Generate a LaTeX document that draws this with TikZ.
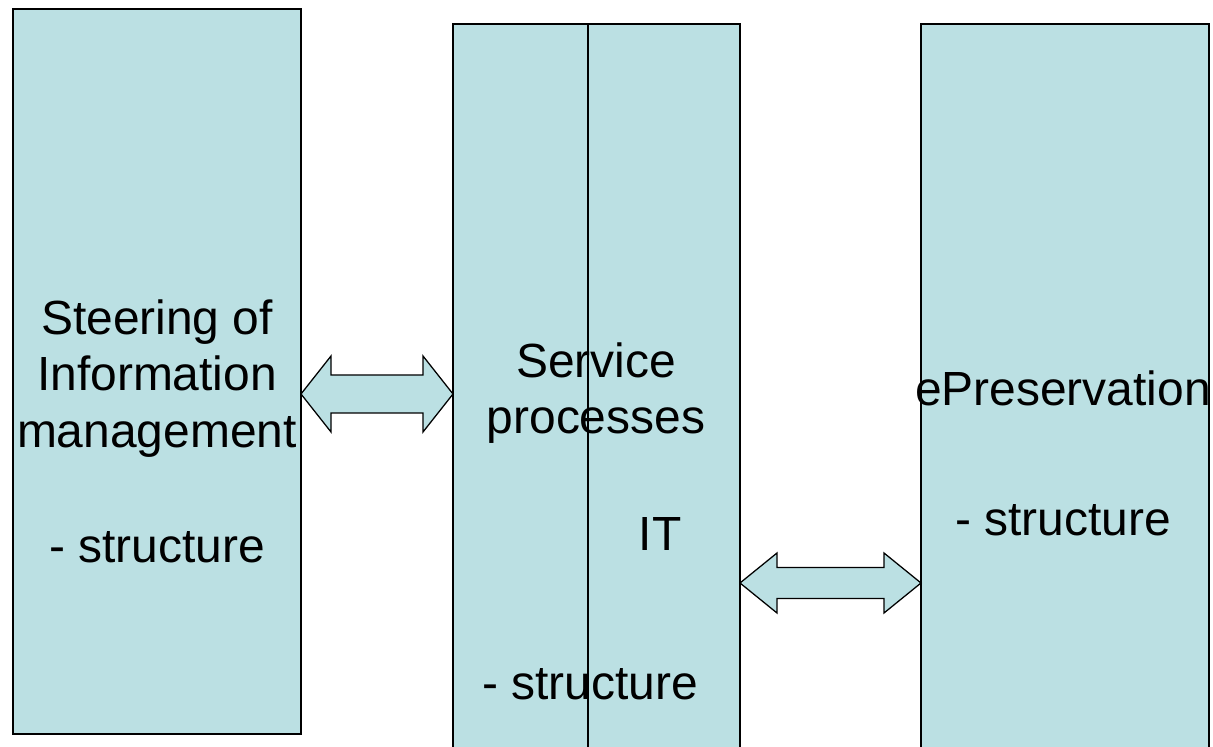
\documentclass[tikz,border=0pt]{standalone}
\usepackage{fontspec}
\setmainfont{Liberation Sans}
\usetikzlibrary{calc}
\definecolor{boxteal}{HTML}{BBE0E3}
\newcommand{\px}{0.025cm}
% block arrow with a head at both ends: from, to, shaft half, head half, head length
\newcommand{\twoway}[5]{%
  \draw[linkarrow] (#1) -- ($(#1)+(#5,-#4)$) -- ($(#1)+(#5,-#3)$)
    -- ($(#2)+(-#5,-#3)$) -- ($(#2)+(-#5,-#4)$) -- (#2)
    -- ($(#2)+(-#5,#4)$) -- ($(#2)+(-#5,#3)$)
    -- ($(#1)+(#5,#3)$) -- ($(#1)+(#5,#4)$) -- cycle;}
\tikzset{
  block/.style={rectangle,draw=black,fill=boxteal,line width=1.2pt,inner sep=0pt,outer sep=0pt},
  linkarrow/.style={draw=black,fill=boxteal,line width=0.9pt,line join=miter},
  label/.style={anchor=base,inner sep=0pt,font=\fontsize{34.1}{40}\selectfont}
}
\begin{document}
\begin{tikzpicture}[x=\px,y=-\px]
 \useasboundingbox (0,0) rectangle (1213,747);
 \clip (0,0) rectangle (1213,747);
 % the three columns
 \node (steer) [block,minimum width=288*\px,minimum height=725*\px] at (157,371.5) {};
 \node (serv)  [block,minimum width=287*\px,minimum height=736*\px] at (596.5,392) {};
 \node (epres) [block,minimum width=288*\px,minimum height=736*\px] at (1065,392) {};
 \coordinate (divx) at (588,0);
 \draw [line width=1.2pt] (serv.north -| divx) -- (serv.south -| divx);

 % links between the columns
 \coordinate (lvlA) at (0,394);
 \coordinate (lvlB) at (0,583);
 \twoway{steer.east |- lvlA}{serv.west |- lvlA}{19}{38}{30}
 \twoway{serv.east |- lvlB}{epres.west |- lvlB}{15.5}{30}{37}

 % texts
 \node (t1) [label] at (157,335) {Steering of};
 \node (t2) [label] at (157,391) {Information};
 \node (t3) [label] at (157,448) {management};
 \node (t4) [label] at (157,563) {- structure};
 \node (s1) [label] at (596,378) {Service};
 \node (s2) [label] at (596,434) {processes};
 \node (s3) [label] at (660,551) {IT};
 \node (s4) [label] at (590,700) {- structure};
 \node (e1) [label] at (1063,406) {ePreservation};
 \node (e2) [label] at (1063,536) {- structure};
\end{tikzpicture}
\end{document}
